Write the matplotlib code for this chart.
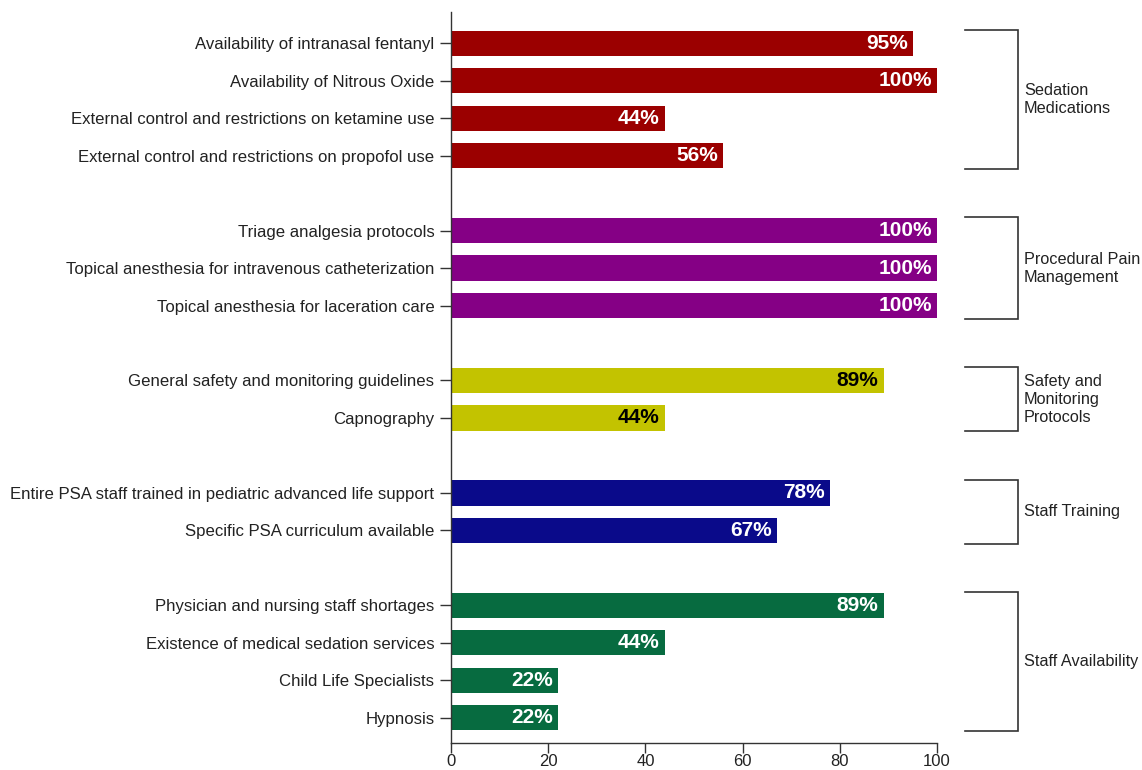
import matplotlib
matplotlib.use("Agg")
import matplotlib.pyplot as plt
from matplotlib.transforms import offset_copy

plt.rcParams['font.family'] = ['Liberation Sans', 'DejaVu Sans']

labels = [
    "Availability of intranasal fentanyl",
    "Availability of Nitrous Oxide",
    "External control and restrictions on ketamine use",
    "External control and restrictions on propofol use",
    "Triage analgesia protocols",
    "Topical anesthesia for intravenous catheterization",
    "Topical anesthesia for laceration care",
    "General safety and monitoring guidelines",
    "Capnography",
    "Entire PSA staff trained in pediatric advanced life support",
    "Specific PSA curriculum available",
    "Physician and nursing staff shortages",
    "Existence of medical sedation services",
    "Child Life Specialists",
    "Hypnosis",
]
values = [95, 100, 44, 56, 100, 100, 100, 89, 44, 78, 67, 89, 44, 22, 22]
group_of = [0, 0, 0, 0, 1, 1, 1, 2, 2, 3, 3, 4, 4, 4, 4]
group_names = ["Sedation\nMedications", "Procedural Pain\nManagement",
               "Safety and\nMonitoring\nProtocols", "Staff Training",
               "Staff Availability"]
group_colors = ["#9b0000", "#850085", "#c3c300", "#0a0a8a", "#076b40"]
label_colors = ["white", "white", "black", "white", "white"]
xticks = [0, 20, 40, 60, 80, 100]

# positions with gaps between groups
pos = []
p = 0
prev = group_of[0]
for g in group_of:
    if g != prev:
        p += 1
        prev = g
    pos.append(p)
    p += 1

W, H = 1142, 770
fig = plt.figure(figsize=(W / 100, H / 100), dpi=100)
ax = fig.add_axes([451 / W, 1 - 743 / H, (937 - 451) / W, (743 - 12) / H])

bh = 0.67
for y, v, g in zip(pos, values, group_of):
    ax.barh(y, v, height=bh, color=group_colors[g], edgecolor='none')
    t = offset_copy(ax.transData, fig=fig, x=-5, y=0, units='dots')
    ax.text(v, y, f"{v}%", transform=t, ha='right', va='center',
            color=label_colors[g], fontsize=15, fontweight='bold')

ax.set_xlim(0, 100)
ax.set_ylim(max(pos) + 0.67, -0.83)
ax.set_yticks(pos)
ax.set_yticklabels(labels, fontsize=12.1, color='#222222')
ax.set_xticks(xticks)
ax.set_xticklabels([str(x) for x in xticks], fontsize=12, color='#222222')
ax.tick_params(axis='y', length=8, width=1, color='#333333', pad=4)
ax.tick_params(axis='x', length=7, width=1, color='#333333', pad=1)
for s in ['top', 'right']:
    ax.spines[s].set_visible(False)
for s in ['left', 'bottom']:
    ax.spines[s].set_color('#333333')
    ax.spines[s].set_linewidth(1)

# group brackets
x0, x1, xt = 105.8, 116.7, 117.9
for gi, name in enumerate(group_names):
    ys = [y for y, g in zip(pos, group_of) if g == gi]
    top, bot = min(ys) - 0.35, max(ys) + 0.35
    ax.plot([x0, x1, x1, x0], [top, top, bot, bot], color='#333333',
            lw=1.2, clip_on=False, solid_joinstyle='miter')
    ax.text(xt, (top + bot) / 2, name, ha='left', va='center',
            fontsize=11.7, color='#222222', linespacing=1.25, clip_on=False)

fig.savefig("out.png", dpi=100)
